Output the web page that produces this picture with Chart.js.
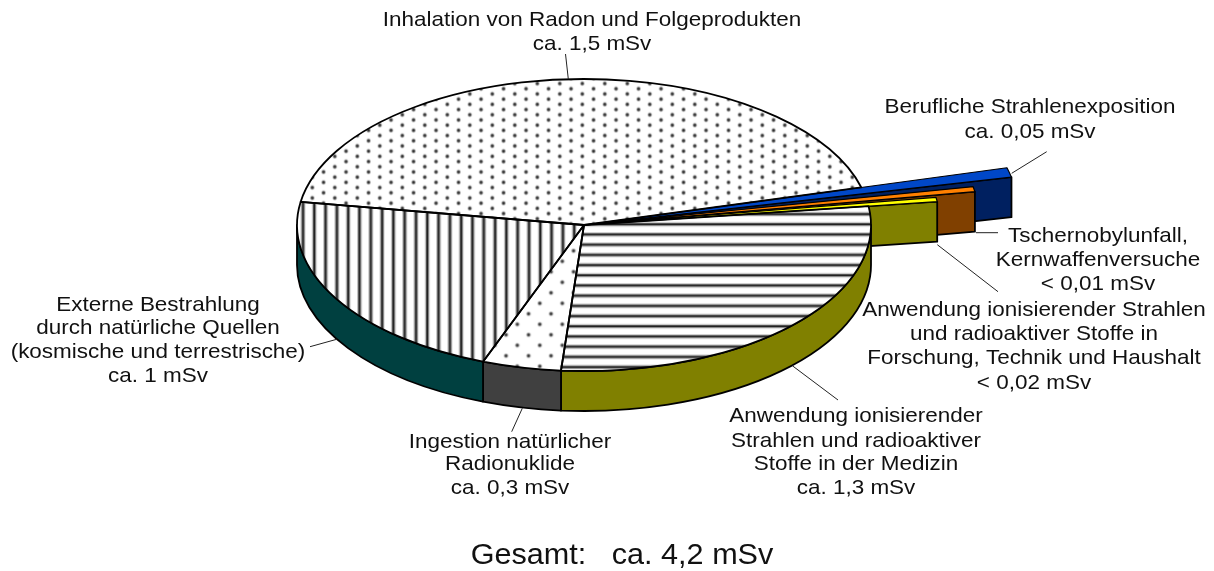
<!DOCTYPE html>
<html><head><meta charset="utf-8">
<style>html,body{margin:0;padding:0;background:#fff}canvas{display:block}</style>
<script src="https://cdn.jsdelivr.net/npm/chart.js@4"></script>
</head><body><canvas id="c" width="1214" height="571"></canvas>
<script>
// Slices as drawn, clockwise from the Radon slice (share of the pie, in degrees)
const categories = ["Inhalation von Radon und Folgeprodukten","Berufliche Strahlenexposition","Tschernobylunfall, Kernwaffenversuche","Anwendung ionisierender Strahlen (Forschung, Technik, Haushalt)","Anwendung ionisierender Strahlen (Medizin)","Ingestion natürlicher Radionuklide","Externe Bestrahlung"];
const drawnShares = [156, 3.95, 2.15, 1.4, 102, 16, 78.5];
const statedMSv = [1.5, 0.05, 0.01, 0.02, 1.3, 0.3, 1];
const reachFactors = [1, 1.525, 1.381, 1.241, 1, 1, 1];
const endTrimDeg = [0, 1.45, 0.7, 0, 0, 0, 0];
const wallColors = [null, "#002060", "#804000", "#808000", "#808000", "#404040", "#004040"];

const labelBlocks = [
 {x:592, lines:[["Inhalation von Radon und Folgeprodukten",20],["ca. 1,5 mSv",44]]},
 {x:1030,lines:[["Berufliche Strahlenexposition",107],["ca. 0,05 mSv",132]]},
 {x:1098,lines:[["Tschernobylunfall,",236],["Kernwaffenversuche",260],["< 0,01 mSv",284]]},
 {x:1034,lines:[["Anwendung ionisierender Strahlen",310],["und radioaktiver Stoffe in",334],["Forschung, Technik und Haushalt",358],["< 0,02 mSv",383]]},
 {x:856, lines:[["Anwendung ionisierender",416],["Strahlen und radioaktiver",441],["Stoffe in der Medizin",464],["ca. 1,3 mSv",488]]},
 {x:510, lines:[["Ingestion natürlicher",442],["Radionuklide",464],["ca. 0,3 mSv",488]]},
 {x:158, lines:[["Externe Bestrahlung",305],["durch natürliche Quellen",328],["(kosmische und terrestrische)",352],["ca. 1 mSv",376]]}
];
const totalLabel = "Gesamt:   ca. 4,2 mSv";
const leaders = [[565.5,54,568.3,79],[1011.7,173.3,1046.7,151.7],[976,232.7,998,232.7],[937.3,244.7,998,291.7],[792.3,365.7,838,400],[522.3,408.3,511.7,431.7],[310,346.7,336.7,339.3]];

const PIE_R = 287, PIE_RY = 146, DEPTH = 40, CY = 225;
const K = PIE_RY / PIE_R, TY = CY * (1 - K);

function makePattern(w, h, paint, phaseX, phaseY) {
  const t = document.createElement('canvas'); t.width = w; t.height = h;
  const g = t.getContext('2d');
  g.fillStyle = '#fff'; g.fillRect(0, 0, w, h);
  paint(g, w, h);
  const p = g.createPattern(t, 'repeat');
  p.setTransform(new DOMMatrix([1, 0, 0, 1 / K, phaseX, (phaseY - TY) / K]));
  return p;
}
function dot(g, x, y) {
  const r = g.createRadialGradient(x, y, 0, x, y, 3.2);
  r.addColorStop(0, '#222'); r.addColorStop(0.35, '#555'); r.addColorStop(0.65, '#ccc'); r.addColorStop(1, 'rgba(255,255,255,0)');
  g.fillStyle = r; g.beginPath(); g.arc(x, y, 3.2, 0, 7); g.fill();
}
function dots(dx, rowH, rows) {
  return (g, w, h) => {
    for (let r = -1; r <= rows; r++) for (let c = -1; c <= 2; c++) {
      dot(g, c * dx + (r % 2 ? dx / 2 : 0), r * rowH);
    }
  };
}
const patRadon = makePattern(45, 52, dots(22.5, 5.2, 10), 526, 88.7);
const patIngest = makePattern(45, 21, dots(22.5, 10.5, 2), 517.3, 324.3);
const patVert = makePattern(113, 4, (g, w, h) => {
  for (let i = 0; i < 10; i++) { const x = i * 11.3 + 3;
    g.fillStyle = '#aaa'; g.fillRect(x - 2.2, 0, 4.4, h);
    g.fillStyle = '#222'; g.fillRect(x - 1, 0, 2, h);
  }
}, 311.3, 0);
const patHorz = makePattern(4, 102, (g, w, h) => {
  for (let i = 0; i < 10; i++) { const y = i * 10.2 + 3;
    g.fillStyle = '#bbb'; g.fillRect(0, y - 2.2, w, 4.4);
    g.fillStyle = '#222'; g.fillRect(0, y - 1, w, 2);
  }
}, 0, 221.3);
const topFills = [patRadon, "#0047c8", "#ff8000", "#ffff00", patHorz, patIngest, patVert];

function stretchedText(ctx, text, x, y, sx) {
  ctx.save(); ctx.translate(x, y); ctx.scale(sx, 1); ctx.fillText(text, 0, 0); ctx.restore();
}

const pie3d = {
  id: 'pie3d',
  afterDatasetsUpdate(chart) {
    chart.getDatasetMeta(0).data.forEach((a, i) => {
      a.outerRadius *= reachFactors[i];
      const t = endTrimDeg[i] * Math.PI / 180;
      a.endAngle -= t; a.circumference -= t;
    });
  },
  beforeDatasetsDraw(chart) {
    const ctx = chart.ctx, arcs = chart.getDatasetMeta(0).data;
    ctx.lineWidth = 1.8; ctx.strokeStyle = '#000'; ctx.lineJoin = 'round';
    // walls of the long thin slices, back to front
    arcs.forEach((a, i) => {
      if (reachFactors[i] === 1) return;
      const px = a.x + Math.cos(a.endAngle) * a.outerRadius;
      const py = a.y + Math.sin(a.endAngle) * a.outerRadius * K;
      ctx.beginPath(); ctx.moveTo(a.x, a.y); ctx.lineTo(px, py); ctx.lineTo(px, py + DEPTH); ctx.lineTo(a.x, a.y + DEPTH); ctx.closePath();
      ctx.fillStyle = wallColors[i]; ctx.fill(); ctx.stroke();
    });
    // rim of the main pie
    arcs.forEach((a, i) => {
      if (reachFactors[i] !== 1 || !wallColors[i]) return;
      for (let n = -1; n <= 2; n++) {
        const lo = Math.max(a.startAngle, n * 2 * Math.PI), hi = Math.min(a.endAngle, n * 2 * Math.PI + Math.PI);
        if (hi <= lo) continue;
        ctx.beginPath();
        ctx.ellipse(a.x, a.y, a.outerRadius, a.outerRadius * K, 0, lo, hi);
        ctx.ellipse(a.x, a.y + DEPTH, a.outerRadius, a.outerRadius * K, 0, hi, lo, true);
        ctx.closePath();
        ctx.fillStyle = wallColors[i]; ctx.fill(); ctx.stroke();
      }
    });
    ctx.save(); ctx.translate(0, TY); ctx.scale(1, K);
  },
  afterDatasetsDraw(chart) {
    const ctx = chart.ctx, arcs = chart.getDatasetMeta(0).data;
    ctx.restore();
    ctx.strokeStyle = '#000'; ctx.lineJoin = 'round';
    arcs.forEach((a, i) => {
      ctx.beginPath(); ctx.moveTo(a.x, a.y);
      ctx.ellipse(a.x, a.y, a.outerRadius, a.outerRadius * K, 0, a.startAngle, a.endAngle);
      ctx.closePath();
      ctx.lineWidth = reachFactors[i] === 1 ? 1.8 : 1.2; ctx.stroke();
    });
    ctx.lineWidth = 1; ctx.strokeStyle = '#222';
    leaders.forEach(l => { ctx.beginPath(); ctx.moveTo(l[0], l[1]); ctx.lineTo(l[2], l[3]); ctx.stroke(); });
    ctx.fillStyle = '#111'; ctx.textAlign = 'center'; ctx.textBaseline = 'middle';
    ctx.font = '21px "Liberation Sans"';
    labelBlocks.forEach(b => b.lines.forEach(l => stretchedText(ctx, l[0], b.x, l[1], 1.07)));
    ctx.font = '29px "Liberation Sans"';
    stretchedText(ctx, totalLabel, 622, 556, 1.055);
  }
};

new Chart(document.getElementById('c'), {
  type: 'pie',
  data: { labels: categories, datasets: [{ data: drawnShares, backgroundColor: topFills, borderWidth: 0, clip: false }] },
  options: {
    responsive: false, animation: false, events: [],
    radius: PIE_R, rotation: 279.1,
    layout: { padding: { left: 0, top: 0, right: 46, bottom: 121 } },
    plugins: { legend: { display: false }, tooltip: { enabled: false }, title: { display: false } }
  },
  plugins: [pie3d]
});
</script></body></html>
